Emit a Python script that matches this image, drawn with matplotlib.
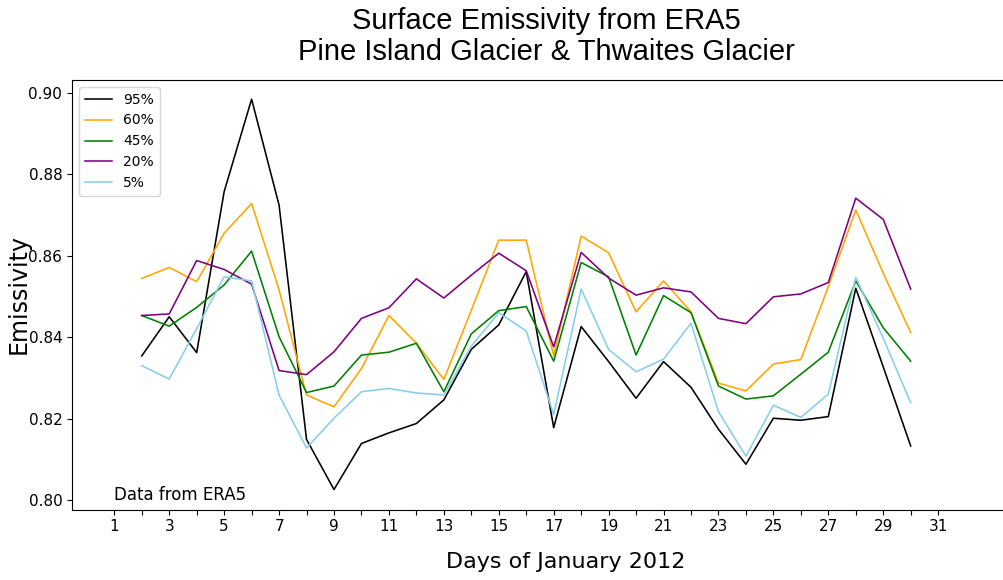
import matplotlib
matplotlib.use("Agg")
import matplotlib.pyplot as plt
import numpy as np

days = list(range(2, 31))

p95 = [0.8354, 0.8450, 0.8362, 0.8757, 0.8984, 0.8724, 0.8149, 0.8026, 0.8139,
       0.8165, 0.8188, 0.8246, 0.8370, 0.8430, 0.8561, 0.8178, 0.8426, 0.8340,
       0.8250, 0.8340, 0.8277, 0.8174, 0.8088, 0.8201, 0.8196, 0.8205, 0.8520,
       0.8327, 0.8133]
p60 = [0.8544, 0.8571, 0.8536, 0.8655, 0.8728, 0.8516, 0.8258, 0.8229, 0.8323,
       0.8453, 0.8385, 0.8296, 0.8466, 0.8638, 0.8638, 0.8354, 0.8648, 0.8607,
       0.8462, 0.8538, 0.8462, 0.8287, 0.8268, 0.8334, 0.8345, 0.8524, 0.8712,
       0.8557, 0.8411]
p45 = [0.8453, 0.8427, 0.8473, 0.8528, 0.8611, 0.8401, 0.8264, 0.8280, 0.8356,
       0.8363, 0.8385, 0.8266, 0.8408, 0.8465, 0.8475, 0.8341, 0.8583, 0.8548,
       0.8356, 0.8502, 0.8460, 0.8280, 0.8248, 0.8256, 0.8309, 0.8363, 0.8538,
       0.8423, 0.8341]
p20 = [0.8453, 0.8457, 0.8588, 0.8566, 0.8530, 0.8318, 0.8308, 0.8364, 0.8446,
       0.8472, 0.8543, 0.8496, 0.8552, 0.8606, 0.8563, 0.8376, 0.8608, 0.8545,
       0.8503, 0.8521, 0.8511, 0.8446, 0.8433, 0.8499, 0.8506, 0.8534, 0.8741,
       0.8689, 0.8518]
p05 = [0.8330, 0.8297, 0.8421, 0.8548, 0.8538, 0.8258, 0.8128, 0.8201, 0.8266,
       0.8274, 0.8263, 0.8258, 0.8378, 0.8460, 0.8415, 0.8210, 0.8518, 0.8370,
       0.8315, 0.8346, 0.8434, 0.8217, 0.8108, 0.8233, 0.8203, 0.8260, 0.8547,
       0.8397, 0.8239]

series = [("95%", p95, "black"), ("60%", p60, "orange"), ("45%", p45, "green"),
          ("20%", p20, "purple"), ("5%", p05, "skyblue")]

xticks = list(range(1, 32))
xticklabels = [str(d) if d % 2 == 1 else "" for d in xticks]
yticks = [0.80, 0.82, 0.84, 0.86, 0.88, 0.90]

W, H = 1004, 580
fig = plt.figure(figsize=(W / 100, H / 100), dpi=100)
ax = fig.add_axes([72 / W, (H - 509.5) / H, (1020 - 72) / W, (509.5 - 80) / H])

for label, vals, col in series:
    ax.plot(days, vals, color=col, lw=1.15, label=label)

ax.set_xlim(-0.54, 33.98)
ax.set_ylim(0.7977, 0.9031)
ax.set_xticks(xticks)
ax.set_xticklabels(xticklabels, fontsize=11)
ax.set_yticks(yticks)
ax.set_yticklabels([f"{v:.2f}" for v in yticks], fontsize=11)
ax.spines['right'].set_visible(False)

ax.text(1, 0.80, "Data from ERA5", fontsize=12)
ax.legend(loc="upper left", fontsize=10)

fig.text(546 / W, 1 - 66 / H, "Surface Emissivity from ERA5\nPine Island Glacier & Thwaites Glacier",
         ha="center", va="bottom", fontsize=21, family="Liberation Sans", linespacing=1.15)
fig.text(19 / W, 1 - 293.5 / H, "Emissivity", rotation=90, ha="center", va="center", fontsize=17)
fig.text(566 / W, 1 - 562 / H, "Days of January 2012", ha="center", va="center", fontsize=16)

fig.savefig("out.png", dpi=100)
